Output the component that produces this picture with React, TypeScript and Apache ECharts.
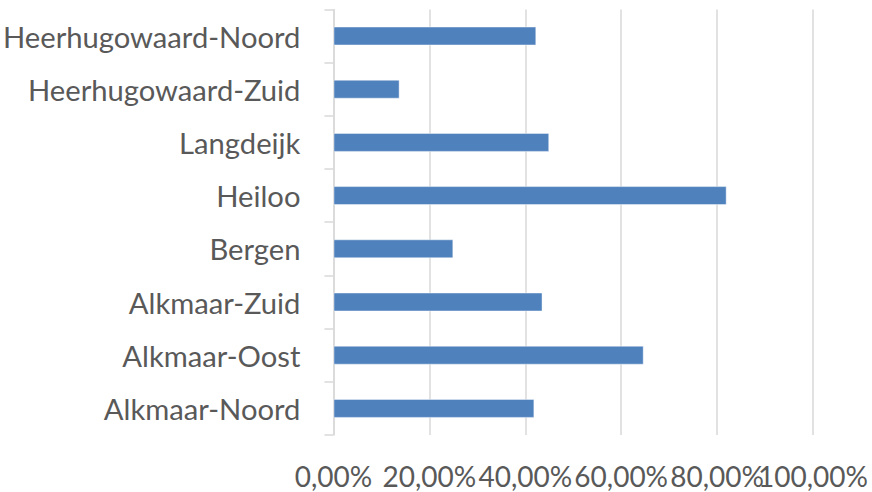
import React, { useEffect, useRef } from "react";
import * as echarts from "echarts";

const categories = [
  "Alkmaar-Noord",
  "Alkmaar-Oost",
  "Alkmaar-Zuid",
  "Bergen",
  "Heiloo",
  "Langdeijk",
  "Heerhugowaard-Zuid",
  "Heerhugowaard-Noord",
];
const values = [41.9, 64.7, 43.6, 25.0, 82.0, 45.0, 13.8, 42.3];
const xTicks = { min: 0, max: 100, interval: 20 };

const GRID_TOP = 9.4;
const GRID_BOTTOM = 57;
const HEIGHT = 492;

export default function App() {
  const ref = useRef<HTMLDivElement>(null);
  useEffect(() => {
    if (!ref.current) return;
    const chart = echarts.init(ref.current, null, { renderer: "svg" });
    const font = "Lato, 'Open Sans', sans-serif";
    const fmt = (v: number) => v.toFixed(2).replace(".", ",") + "%";
    const labelBase = {
      color: "#595959",
      fontFamily: font,
      fontSize: 28,
      margin: 27,
    };
    chart.setOption({
      animation: false,
      grid: { left: 331, right: 59, top: GRID_TOP, bottom: GRID_BOTTOM, containLabel: false },
      xAxis: [
        {
          type: "value",
          position: "bottom",
          min: xTicks.min,
          max: xTicks.max,
          interval: xTicks.interval,
          axisLine: { show: false },
          axisTick: { show: false },
          splitLine: { show: true, lineStyle: { color: "#d9d9d9", width: 1.5 } },
          axisLabel: {
            ...labelBase,
            showMinLabel: true,
            showMaxLabel: false,
            formatter: fmt,
          },
        },
        {
          type: "value",
          position: "top",
          offset: -(HEIGHT - GRID_TOP - GRID_BOTTOM),
          min: xTicks.min,
          max: xTicks.max,
          interval: xTicks.interval,
          axisLine: { show: false },
          axisTick: { show: false },
          splitLine: { show: false },
          axisLabel: {
            ...labelBase,
            inside: true,
            showMinLabel: false,
            showMaxLabel: true,
            formatter: (v: number) => (v === xTicks.max ? fmt(v) : ""),
          },
        },
      ],
      yAxis: {
        type: "category",
        data: categories,
        axisLine: { show: true, lineStyle: { color: "#d9d9d9", width: 1.5 } },
        axisTick: { show: true, length: 9, inside: false, lineStyle: { color: "#d9d9d9", width: 1.5 } },
        splitLine: { show: false },
        axisLabel: {
          color: "#595959",
          fontFamily: font,
          fontSize: 29.2,
          margin: 33,
        },
      },
      series: [
        {
          type: "bar",
          xAxisIndex: 0,
          data: values,
          barWidth: 19,
          itemStyle: {
            color: "#4f81bd",
            borderColor: "rgba(255,255,255,0.45)",
            borderWidth: 1,
          },
        },
      ],
    });
    return () => chart.dispose();
  }, []);
  return (
    <div
      ref={ref}
      style={{ position: "absolute", left: 0, top: 0, width: 872, height: HEIGHT }}
    />
  );
}
